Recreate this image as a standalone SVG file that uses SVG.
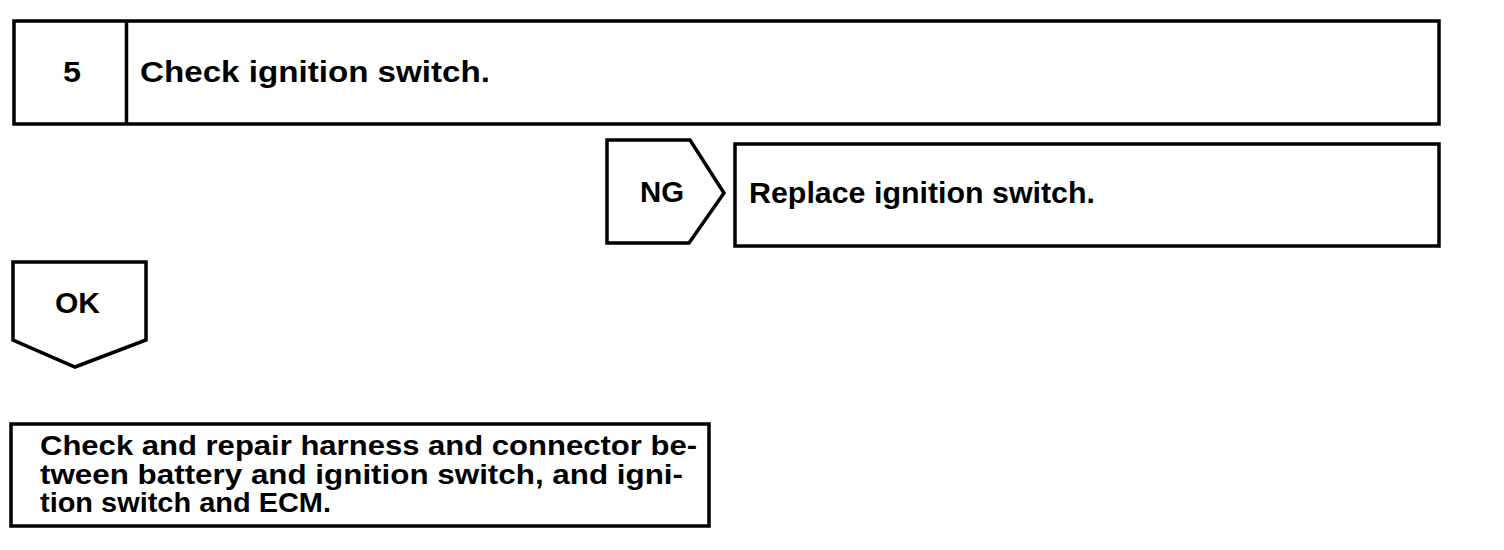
<svg xmlns="http://www.w3.org/2000/svg" width="1504" height="550" viewBox="0 0 1504 550">
<style>
.box{fill:#fff;stroke:#000;stroke-width:3.5;stroke-linejoin:miter}
.t{font-family:"Liberation Sans",Arial,sans-serif;font-weight:bold;font-size:29px;fill:#000}
.s{font-size:27px}
</style>
<rect width="1504" height="550" fill="#fff"/>
<g id="step5">
<rect class="box" x="14" y="21" width="1425" height="103"/>
<line class="box" x1="126.5" y1="21" x2="126.5" y2="124"/>
<text class="t" x="63" y="82" textLength="18" lengthAdjust="spacingAndGlyphs">5</text>
<text class="t" x="140" y="82" textLength="350" lengthAdjust="spacingAndGlyphs">Check ignition switch.</text>
</g>
<g id="ng">
<polygon class="box" points="607,140 690,140 724,193 689,243 607,243"/>
<text class="t" x="640" y="202" textLength="44" lengthAdjust="spacingAndGlyphs">NG</text>
</g>
<g id="replace">
<rect class="box" x="735" y="144" width="704" height="102"/>
<text class="t" x="749" y="203" textLength="346" lengthAdjust="spacingAndGlyphs">Replace ignition switch.</text>
</g>
<g id="ok">
<polygon class="box" points="13,262 146,262 146,340 75,367 13,340"/>
<text class="t" x="55" y="313" textLength="45" lengthAdjust="spacingAndGlyphs">OK</text>
</g>
<g id="repair">
<rect class="box" x="11" y="424" width="698" height="102"/>
<text class="t s" x="40" y="455" textLength="657" lengthAdjust="spacingAndGlyphs">Check and repair harness and connector be-</text>
<text class="t s" x="40" y="484" textLength="643" lengthAdjust="spacingAndGlyphs">tween battery and ignition switch, and igni-</text>
<text class="t s" x="40" y="512" textLength="291" lengthAdjust="spacingAndGlyphs">tion switch and ECM.</text>
</g>
<g id="connectors"></g>
</svg>
